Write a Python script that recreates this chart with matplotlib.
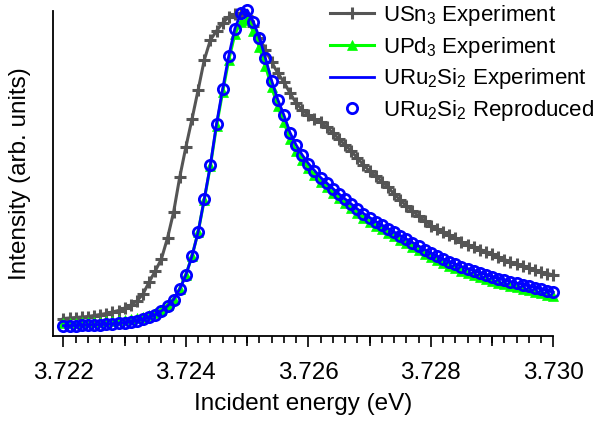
import numpy as np
import matplotlib
matplotlib.use('Agg')
import matplotlib.pyplot as plt
from matplotlib.ticker import MultipleLocator, NullLocator

plt.rcParams['font.family'] = ['Liberation Sans', 'DejaVu Sans']
plt.rcParams['mathtext.fontset'] = 'custom'
plt.rcParams['mathtext.rm'] = 'Liberation Sans'
plt.rcParams['mathtext.it'] = 'Liberation Sans:italic'
plt.rcParams['mathtext.bf'] = 'Liberation Sans:bold'

# energia: 3.7220 .. 3.7300 paso 0.0001 (81 puntos)
ENERGIA_INICIO = 3.7220
ENERGIA_PASO = 0.0001
N_PUNTOS = 81

USN3 = [
    17.5, 18.0, 18.5, 19.0, 19.5, 20.5, 21.5, 22.5, 24.0, 25.5,
    28.0, 31.0, 35.0, 42.0, 54.0, 65.0, 77.0, 98.0, 124.0, 159.0,
    189.0, 217.0, 246.0, 276.0, 296.0, 305.0, 313.0, 319.0, 322.0, 323.0,
    320.0, 310.0, 298.0, 286.0, 274.0, 263.0, 254.0, 243.0, 233.0, 226.0,
    221.0, 217.0, 214.0, 209.0, 203.0, 197.0, 191.0, 185.0, 178.0, 171.0,
    165.0, 160.0, 154.5, 149.0, 142.0, 136.0, 130.0, 125.0, 120.0, 115.0,
    110.5, 107.0, 104.0, 101.0, 98.0, 94.0, 91.0, 89.0, 86.5, 84.5,
    82.0, 79.0, 76.5, 74.0, 72.0, 70.0, 68.0, 66.0, 64.0, 62.5,
    61.0,
]

UPD3 = [
    13.3, 13.4, 13.5, 13.7, 13.9, 14.1, 14.4, 14.7, 15.1, 15.6,
    16.2, 17.0, 18.0, 19.3, 21.0, 23.2, 26.5, 31.0, 37.0, 47.0,
    61.0, 80.0, 104.0, 136.0, 170.0, 210.0, 244.0, 276.0, 302.0, 314.0,
    316.0, 305.0, 289.0, 270.0, 249.0, 230.0, 214.0, 197.0, 185.0, 176.0,
    168.0, 161.0, 154.5, 149.0, 143.5, 138.0, 133.0, 128.0, 123.0, 118.5,
    114.5, 110.5, 107.0, 103.5, 100.0, 96.5, 93.0, 89.5, 86.0, 82.5,
    79.0, 76.0, 73.0, 70.5, 68.0, 65.5, 63.5, 61.5, 59.5, 57.5,
    55.5, 53.5, 52.0, 50.5, 49.0, 47.5, 46.0, 44.5, 43.0, 41.5,
    40.0,
]

URU2SI2 = [
    10.3, 10.4, 10.5, 10.7, 10.9, 11.1, 11.4, 11.7, 12.1, 12.6,
    13.2, 14.0, 15.1, 16.6, 18.6, 21.2, 25.0, 30.0, 36.5, 47.0,
    61.0, 80.0, 104.0, 137.0, 171.0, 212.0, 247.0, 280.0, 307.5, 323.0,
    326.0, 314.5, 298.5, 277.7, 255.5, 236.5, 221.0, 203.5, 191.0, 181.0,
    172.5, 165.5, 158.5, 153.0, 147.5, 142.0, 137.0, 132.0, 127.0, 122.5,
    118.5, 114.5, 111.0, 107.5, 104.0, 100.5, 97.0, 93.5, 90.0, 86.5,
    83.0, 80.0, 77.0, 74.5, 72.0, 69.5, 67.5, 65.5, 63.5, 61.5,
    59.5, 57.5, 56.0, 54.5, 53.0, 51.5, 50.0, 48.5, 47.0, 45.5,
    43.7,
]

TICKS_MAYORES = [3.722, 3.724, 3.726, 3.728, 3.730]
TICKS_MEDIOS = [3.723, 3.725, 3.727, 3.729]

COLOR_GRIS = '#555555'
COLOR_VERDE = '#00ff00'
COLOR_AZUL = '#0000ff'


def main():
    energia = ENERGIA_INICIO + ENERGIA_PASO * np.arange(N_PUNTOS)

    fig = plt.figure(figsize=(5.96, 4.21), dpi=100)
    ax = fig.add_axes([53 / 596, 1 - 336 / 421, 500.3 / 596, 325 / 421])

    ax.plot(energia, USN3, color=COLOR_GRIS, linewidth=2.2, marker='+',
            markersize=9, markeredgewidth=2.2, label='USn$_3$ Experiment',
            zorder=2, clip_on=False)
    ax.plot(energia, UPD3, color=COLOR_VERDE, linewidth=2.2, marker='^',
            markersize=7.5, markeredgewidth=0.5, label='UPd$_3$ Experiment',
            zorder=3, clip_on=False)
    ax.plot(energia, URU2SI2, color=COLOR_AZUL, linewidth=2.0,
            label='URu$_2$Si$_2$ Experiment', zorder=4, clip_on=False)
    ax.plot(energia, URU2SI2, linestyle='None', marker='o', markersize=7.4,
            markerfacecolor='none', markeredgecolor=COLOR_AZUL, markeredgewidth=2.0,
            label='URu$_2$Si$_2$ Reproduced', zorder=5, clip_on=False)

    ax.set_xlim(3.72183, 3.7300)
    ax.set_ylim(0, 325)

    for lado in ('top', 'right'):
        ax.spines[lado].set_visible(False)
    for lado in ('left', 'bottom'):
        ax.spines[lado].set_linewidth(1.3)

    ax.set_yticks([])
    ax.set_xticks(TICKS_MAYORES)
    ax.set_xticklabels([f'{t:.3f}' for t in TICKS_MAYORES])
    ax.xaxis.set_minor_locator(MultipleLocator(0.0002))
    ax.tick_params(axis='x', which='major', direction='out', length=8, width=1.2,
                   labelsize=17.5, pad=11)
    ax.tick_params(axis='x', which='minor', direction='out', length=5.3, width=1.2)

    sec = ax.secondary_xaxis('bottom')
    sec.set_xticks(TICKS_MEDIOS)
    sec.xaxis.set_minor_locator(NullLocator())
    sec.tick_params(axis='x', direction='out', length=7, width=1.2, labelbottom=False)
    sec.spines['bottom'].set_visible(False)

    ax.set_xlabel('Incident energy (eV)', fontsize=17.5, labelpad=6)
    ax.set_ylabel('Intensity (arb. units)', fontsize=17.5, labelpad=15.5)

    ax.legend(loc='upper left', bbox_to_anchor=(330 / 596, 1 - 3 / 421),
              bbox_transform=fig.transFigure, frameon=False, fontsize=16,
              numpoints=1, handlelength=2.0, handletextpad=0.4, labelspacing=0.3,
              borderpad=0, borderaxespad=0)

    fig.savefig('out.png', dpi=100)


if __name__ == '__main__':
    main()
